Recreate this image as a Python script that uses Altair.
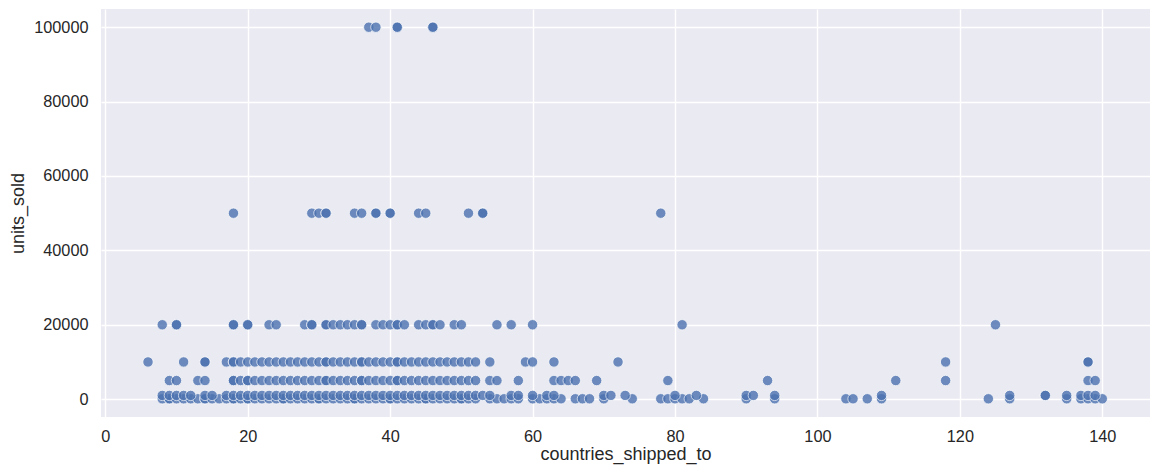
import altair as alt
import pandas as pd

# Listing rows grouped by units_sold; each list holds the countries_shipped_to
# value of every listing at that sales level.
units_levels = [100, 1000, 5000, 10000, 20000, 50000, 100000]

countries_at_100 = [
    8, 9, 9, 10, 11, 12, 13, 14, 14, 15, 16, 17, 18, 18, 19, 20, 20, 21, 22, 23,
    24, 25, 25, 26, 27, 28, 29, 30, 30, 31, 32, 33, 34, 35, 35, 36, 37, 38, 39,
    40, 40, 41, 42, 43, 44, 45, 45, 46, 47, 48, 49, 50, 50, 51, 52, 54, 55, 56,
    57, 58, 60, 61, 62, 63, 64, 66, 67, 68, 70, 74, 78, 79, 80, 81, 82, 84, 90,
    94, 104, 105, 107, 109, 124, 127, 135, 137, 138, 139, 140,
]
countries_at_1000 = [
    8, 9, 10, 11, 12, 14, 15, 17, 18, 19, 20, 21, 22, 23, 24, 25, 26, 27, 28,
    29, 30, 31, 32, 33, 34, 35, 36, 37, 38, 39, 40, 41, 42, 43, 44, 45, 46, 47,
    48, 49, 50, 51, 52, 53, 54, 57, 58, 60, 62, 63, 70, 71, 73, 80, 83, 90, 91,
    94, 109, 127, 132, 132, 135, 137, 138, 139,
]
countries_at_5000 = [
    9, 10, 13, 14, 18, 18, 19, 20, 20, 21, 22, 23, 24, 25, 26, 27, 28, 29, 30,
    31, 31, 32, 33, 34, 35, 36, 36, 37, 38, 39, 40, 41, 41, 42, 43, 44, 45, 46,
    47, 48, 49, 50, 51, 52, 54, 55, 58, 63, 64, 65, 66, 69, 79, 93, 111, 118,
    138, 139,
]
countries_at_10000 = [
    6, 11, 14, 14, 17, 18, 18, 19, 20, 21, 22, 23, 24, 25, 26, 27, 28, 29, 30,
    31, 31, 32, 33, 34, 35, 36, 36, 37, 38, 39, 40, 41, 41, 42, 43, 44, 45, 46,
    47, 48, 49, 50, 51, 52, 54, 59, 60, 63, 72, 118, 138, 138,
]
countries_at_20000 = [
    8, 10, 10, 18, 18, 20, 20, 23, 24, 28, 29, 29, 31, 31, 32, 33, 34, 35, 36,
    36, 38, 39, 40, 41, 41, 42, 44, 45, 46, 46, 47, 49, 50, 55, 57, 60, 81, 125,
]
countries_at_50000 = [18, 29, 30, 31, 31, 35, 36, 38, 38, 40, 40, 44, 45, 51, 53, 53, 78]
countries_at_100000 = [37, 38, 41, 41, 46, 46]

x_ticks = [0, 20, 40, 60, 80, 100, 120, 140]
y_ticks = [0, 20000, 40000, 60000, 80000, 100000]

groups = [
    countries_at_100, countries_at_1000, countries_at_5000, countries_at_10000,
    countries_at_20000, countries_at_50000, countries_at_100000,
]
rows = []
for level, xs in zip(units_levels, groups):
    for c in xs:
        rows.append({"countries_shipped_to": c, "units_sold": level})
df = pd.DataFrame(rows)

FONT = "Liberation Sans"
TEXT = "#262626"

chart = (
    alt.Chart(df)
    .mark_circle(size=108, color="#4C72B0", opacity=0.8, stroke="white", strokeWidth=0.8)
    .encode(
        x=alt.X(
            "countries_shipped_to:Q",
            scale=alt.Scale(domain=[-0.6, 146.7], zero=False, nice=False),
            axis=alt.Axis(
                values=x_ticks, format="d", labelPadding=11, labelBaseline="top",
                titleBaseline="alphabetic", titleY=42,
            ),
        ),
        y=alt.Y(
            "units_sold:Q",
            scale=alt.Scale(domain=[-4800, 104900], zero=False, nice=False),
            axis=alt.Axis(
                values=y_ticks, format="d", labelPadding=13,
                titleBaseline="alphabetic", titleX=-78, titleY=204, titleAngle=270,
            ),
        ),
    )
    .properties(
        width=1049,
        height=408,
        autosize=alt.AutoSizeParams(type="none"),
        padding={"left": 101, "top": 9, "right": 0, "bottom": 51},
        background="white",
    )
    .configure_view(fill="#EAEAF2", stroke=None)
    .configure_axis(
        grid=True,
        gridColor="white",
        gridWidth=1.4,
        domain=False,
        ticks=False,
        tickSize=0,
        labelFont=FONT,
        labelFontSize=16.3,
        labelColor=TEXT,
        titleFont=FONT,
        titleFontSize=18,
        titleFontWeight="normal",
        titleColor=TEXT,
    )
)

chart.save("out.html", embed_options={"renderer": "svg", "actions": False})
